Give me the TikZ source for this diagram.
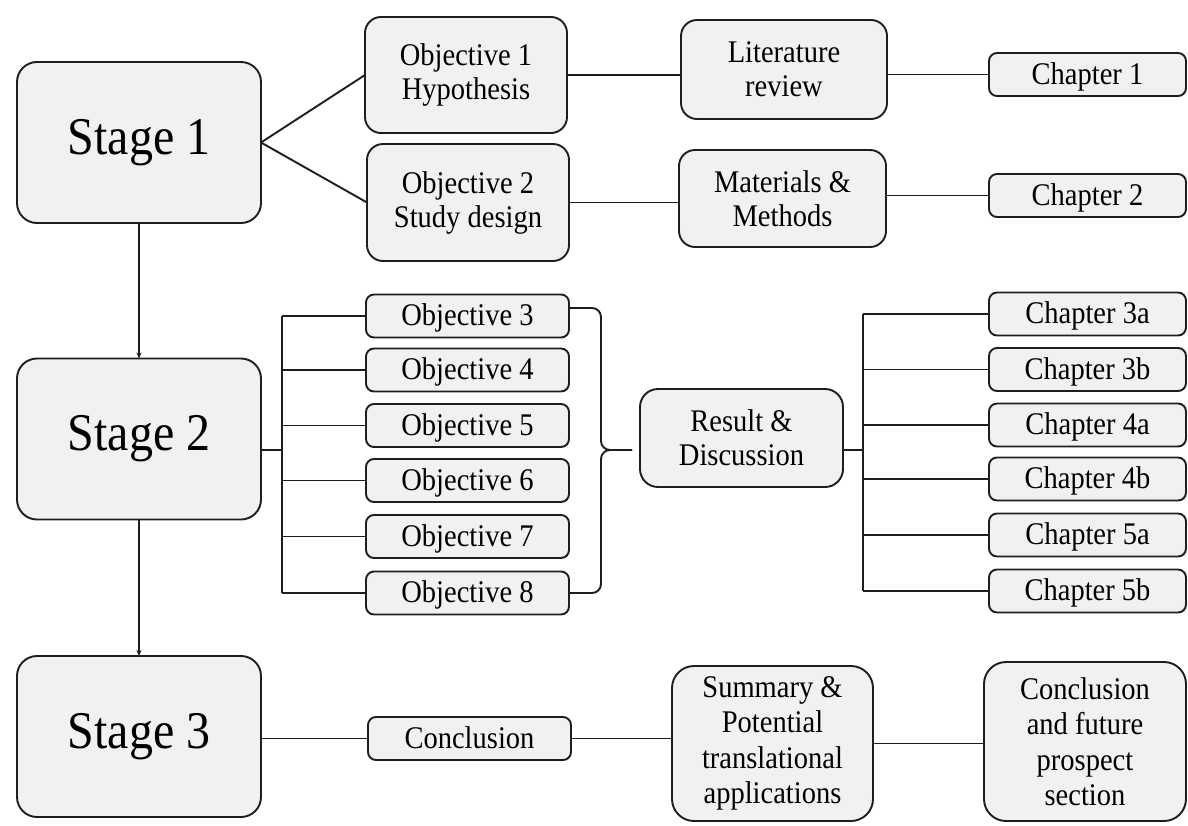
\documentclass[tikz,border=0pt]{standalone}
\usepackage{fontspec}
\setmainfont{Liberation Serif}[FakeStretch=0.905]
\usetikzlibrary{arrows.meta}
\definecolor{boxfill}{HTML}{F1F1F1}
\definecolor{edgecol}{HTML}{1E1E1E}
\begin{document}
\begin{tikzpicture}[x=1pt,y=-1pt,
  box/.style={draw=edgecol, fill=boxfill, line width=1.9pt, inner sep=0pt, outer sep=0pt, align=center, font=\fontsize{31.5}{34}\selectfont},
  big/.style={box, rounded corners=20pt, font=\fontsize{53}{60}\selectfont, minimum width=244pt, minimum height=161pt},
  small/.style={box, rounded corners=8pt, minimum width=203pt, minimum height=43pt, text depth=0.24em},
  mid/.style={box, rounded corners=16pt},
  tall/.style={box, rounded corners=22pt, font=\fontsize{31.5}{35.5}\selectfont},
  link/.style={draw=edgecol, line width=1.9pt},
  arr/.style={draw=edgecol, line width=1.4pt, -{Stealth[length=6pt,width=5pt]}}]

\useasboundingbox[fill=white] (0,0) rectangle (1188,825);

% Stages
\node[big] (s1) at (139,142.5) {Stage 1};
\node[big] (s2) at (139,439) {Stage 2};
\node[big] (s3) at (139,736.5) {Stage 3};

% Stage 1 branch
\node[mid, minimum width=202pt, minimum height=116pt] (o1) at (466,75) {Objective 1\\Hypothesis};
\node[mid, minimum width=202pt, minimum height=117pt] (o2) at (468,202.5) {Objective 2\\Study design};
\node[mid, minimum width=206pt, minimum height=99pt] (lr) at (784,69.5) {Literature\\review};
\node[mid, minimum width=207pt, minimum height=97pt] (mm) at (782.5,198.5) {Materials \&\\Methods};
\node[small, minimum width=197pt] (c1) at (1087.5,74.5) {Chapter 1};
\node[small, minimum width=197pt] (c2) at (1087.5,195.5) {Chapter 2};

% Stage 2 branch
\foreach \n/\y in {3/316,4/370,5/425.5,6/480.5,7/536.5,8/593}
  \node[small] (o\n) at (467.5,\y) {Objective \n};
\node[mid, rounded corners=18pt, minimum width=203pt, minimum height=98pt] (rd) at (741.5,438) {Result \&\\Discussion};
\foreach \n/\y in {3a/314,3b/369.5,4a/425,4b/479,5a/535,5b/591}
  \node[small, minimum width=197pt] (c\n) at (1087.5,\y) {Chapter \n};

% Stage 3 branch
\node[small] (cc) at (469.5,738.5) {Conclusion};
\node[tall, minimum width=201pt, minimum height=155pt] (sp) at (772.5,743.5) {Summary \&\\Potential\\translational\\applications};
\node[tall, minimum width=202pt, minimum height=159pt] (cf) at (1085,741.5) {Conclusion\\and future\\prospect\\section};

% Arrows between stages
\draw[arr] (s1.south) -- (s2.north);
\draw[arr] (s2.south) -- (s3.north);

% Stage 1 connectors
\draw[link] (s1.east) -- (o1.west);
\draw[link] (s1.east) -- (o2.west);
\draw[link] (o1.east) -- (o1.east -| lr.west);
\draw[link] (o2.east) -- (o2.east -| mm.west);
\draw[link] (c1.west -| lr.east) -- (c1.west);
\draw[link] (c2.west -| mm.east) -- (c2.west);

% Stage 2 left bracket
\coordinate (jl) at (282,450);
\draw[link] (s2.east |- jl) -- (jl);
\draw[link] (jl |- o3.west) -- (jl |- o8.west);
\foreach \n in {3,...,8}
  \draw[link] (jl |- o\n.west) -- (o\n.west);

% Brace
\coordinate (a3) at ([yshift=8pt]o3.east);
\coordinate (bc) at (601,450);
\coordinate (bt) at (632,450);
\draw[link, rounded corners=9pt] (a3) -- (a3 -| bc) -- (bc) -- (bt);
\draw[link, rounded corners=9pt] (o8.east) -- (o8.east -| bc) -- (bc) -- (bt);

% Right bracket
\coordinate (jr) at (863,450);
\draw[link] (rd.east |- jr) -- (jr);
\draw[link] (jr |- c3a.west) -- (jr |- c5b.west);
\foreach \n in {3a,3b,4a,4b,5a,5b}
  \draw[link] (jr |- c\n.west) -- (c\n.west);

% Stage 3 connectors
\draw[link] (cc.west -| s3.east) -- (cc.west);
\draw[link] (cc.east) -- (cc.east -| sp.west);
\draw[link] (sp.east) -- (sp.east -| cf.west);
\end{tikzpicture}
\end{document}
